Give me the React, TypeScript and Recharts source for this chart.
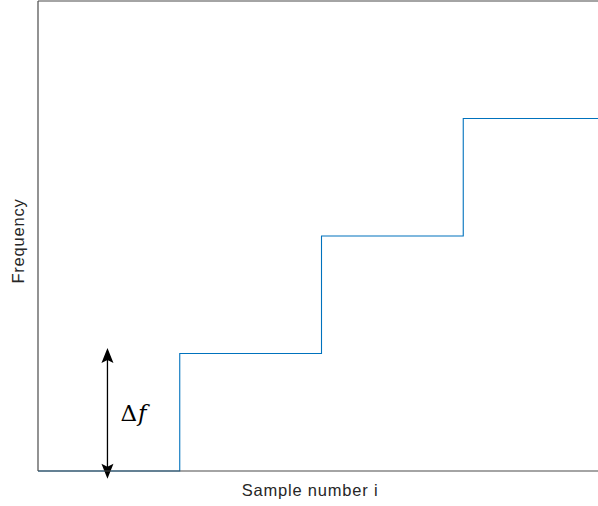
import { LineChart, Line, XAxis, YAxis, ReferenceLine, Label } from 'recharts';

// sample index where each frequency level starts, and the level (in Δf units)
const samples = [0, 1, 2, 3, 4];
const levels = [0, 1, 2, 3, 3];

const xDomain = [0, 4];
const yDomain = [0, 4];

// double arrow showing one step of Δf
const arrowX = 0.49;
const arrowFrom = -0.066;
const arrowTo = 1.046;

const data = samples.map((s, i) => ({ sample: s, freq: levels[i] }));

const AXIS = '#4a4a4a';
const BLUE = '#0072bd';

const head = (x: number, y: number, dir: number) => {
  // notched arrowhead, dir = 1 points down, -1 points up
  const len = 15;
  const w = 6;
  return (
    <path
      d={`M${x},${y} L${x - w},${y - dir * len} L${x},${y - dir * (len - 3)} L${x + w},${y - dir * len} Z`}
      fill="#000"
    />
  );
};

const DoubleArrow = (props: any) => {
  const { x1, y1, x2, y2 } = props;
  const top = Math.min(y1, y2);
  const bottom = Math.max(y1, y2);
  const mid = (top + bottom) / 2;
  return (
    <g>
      <line x1={x1} y1={top + 8} x2={x2} y2={bottom - 8} stroke="#000" strokeWidth={1.3} />
      {head(x1, top, -1)}
      {head(x1, bottom, 1)}
      <text x={x1 + 13} y={mid + 7.5} style={{ fontFamily: '"DejaVu Serif", serif' }} fontSize={23} fill="#000">
        Δ<tspan fontStyle="italic" dx={1}>f</tspan>
      </text>
    </g>
  );
};

export default function App() {
  return (
    <div style={{ width: 598, height: 506, overflow: 'hidden', background: '#fff' }}>
      <style>{`body{margin:0;overflow:hidden}`}</style>
      <LineChart width={612} height={506} data={data} margin={{ top: 1, right: 7, bottom: 0, left: 0 }}>
        <XAxis
          dataKey="sample"
          type="number"
          domain={xDomain}
          tick={false}
          tickLine={false}
          axisLine={{ stroke: AXIS, strokeWidth: 1.2 }}
          height={35}
        >
          <Label
            content={(p: any) => (
              <text
                x={310}
                y={p.viewBox.y + 25}
                textAnchor="middle"
                fontFamily="'Liberation Sans', Arial, sans-serif"
                fontSize={16.5}
                letterSpacing={0.8}
                fill="#262626"
              >
                Sample number i
              </text>
            )}
          />
        </XAxis>
        <YAxis
          type="number"
          domain={yDomain}
          tick={false}
          tickLine={false}
          axisLine={{ stroke: AXIS, strokeWidth: 1.2 }}
          width={38}
        >
          <Label
            content={(p: any) => {
              const cy = p.viewBox.y + p.viewBox.height / 2 + 5;
              return (
                <text
                  x={24}
                  y={cy}
                  transform={`rotate(-90 24 ${cy})`}
                  textAnchor="middle"
                  fontFamily="'Liberation Sans', Arial, sans-serif"
                  fontSize={16.5}
                  letterSpacing={0.8}
                  fill="#262626"
                >
                  Frequency
                </text>
              );
            }}
          />
        </YAxis>
        <ReferenceLine y={yDomain[1]} stroke={AXIS} strokeWidth={1.2} />
        <Line
          dataKey="freq"
          type="stepAfter"
          stroke={BLUE}
          strokeWidth={1.1}
          dot={false}
          activeDot={false}
          isAnimationActive={false}
        />
        <ReferenceLine
          segment={[
            { x: arrowX, y: arrowFrom },
            { x: arrowX, y: arrowTo },
          ]}
          ifOverflow="visible"
          shape={DoubleArrow}
        />
      </LineChart>
    </div>
  );
}
